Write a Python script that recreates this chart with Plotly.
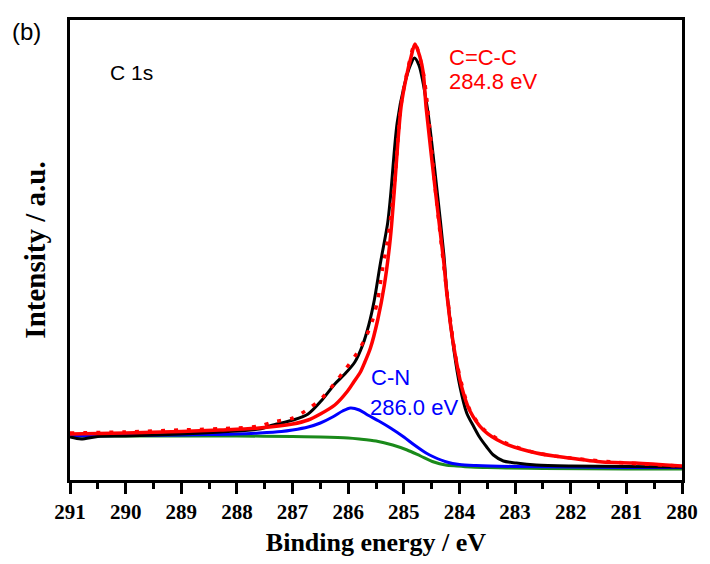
import plotly.graph_objects as go

# ---- data (binding energy in eV, intensity in arbitrary units) ----
ev_bg = [291.0, 290.0, 289.0, 288.0, 287.0, 286.5, 286.0, 285.8, 285.5, 285.2, 284.94,
         284.7, 284.46, 284.25, 284.05, 283.8, 283.5, 283.16, 282.5, 281.0, 280.0]
bg = [44, 44, 44, 44, 43.5, 43, 42, 41, 39, 35, 30, 24, 18, 15, 14, 13, 12.5, 12, 11.5, 11, 11]

ev_cn = [291.0, 290.0, 289.0, 288.5, 288.0, 287.6, 287.2, 287.0, 286.72, 286.5, 286.28,
         286.1, 285.96, 285.8, 285.65, 285.45, 285.24, 285.0, 284.81, 284.6, 284.46, 284.23,
         284.0, 283.7, 283.0, 282.0, 281.0, 280.0]
cn = [44, 44.5, 45, 45.5, 46, 47, 48.5, 50, 53, 57, 63, 69, 72, 70, 65, 59, 52, 43, 35,
      27, 23, 18, 15.5, 14.5, 13.5, 13, 12.5, 12.5]

ev_cc = [291.0, 290.0, 289.0, 288.3, 287.6, 287.0, 286.72, 286.5, 286.24, 286.01, 285.9,
         285.78, 285.7, 285.6, 285.47, 285.35, 285.24, 285.17, 285.05, 284.94, 284.87, 284.8,
         284.71, 284.65, 284.6, 284.42, 284.28, 284.23, 284.14, 284.05, 283.96, 283.82,
         283.57, 283.21, 282.62, 282.03, 281.43, 280.84, 280.0]
cc = [46, 47, 48.5, 50, 52, 56, 60, 66, 75, 89, 98, 108, 118, 132, 160, 195, 243, 290,
      373, 407, 423, 436, 423, 407, 373, 283, 217, 188, 147, 117, 93, 70, 50, 37, 27, 22,
      18, 17, 14]

ev_raw = [291.0, 290.8, 290.5, 290.0, 289.0, 288.3, 287.6, 287.35, 286.99, 286.72, 286.47,
          286.24, 286.06, 285.88, 285.74, 285.63, 285.53, 285.42, 285.29, 285.24, 285.12,
          284.99, 284.88, 284.81, 284.73, 284.58, 284.39, 284.28, 284.23, 284.1, 283.99,
          283.87, 283.74, 283.64, 283.51, 283.39, 283.21, 282.98, 282.62, 282.0, 281.0, 280.0]
raw = [43, 41, 43.5, 44, 46, 48, 51, 55, 60, 66, 80, 96, 106, 118, 135, 155, 180, 217,
       257, 283, 357, 395, 415, 422, 415, 373, 283, 225, 190, 130, 93, 67, 53, 43, 33, 25,
       19, 17, 15, 14, 13.5, 13]

ev_env = [291.0, 290.0, 289.0, 288.0, 287.6, 287.35, 286.99, 286.72, 286.47, 286.24,
          286.06, 285.84, 285.69, 285.56, 285.47, 285.38, 285.29, 285.17, 285.05, 284.94,
          284.8, 284.65, 284.42, 284.23, 284.05, 283.82, 283.57, 283.21, 282.62, 282.0,
          281.0, 280.0]
env = [47, 48, 50, 52, 54, 58, 62, 71, 82, 97, 110, 127, 142, 160, 180, 212, 240, 295,
       375, 408, 436, 407, 283, 190, 118, 71, 51, 38, 27, 22, 17, 14]

x_ticks = list(range(280, 292))

fig = go.Figure()
fig.add_trace(go.Scatter(x=ev_bg, y=bg, mode="lines",
                         line=dict(color="#1a8a1a", width=3, shape="spline", smoothing=0.8)))
fig.add_trace(go.Scatter(x=ev_cn, y=cn, mode="lines",
                         line=dict(color="#0000ff", width=3, shape="spline", smoothing=0.8)))
fig.add_trace(go.Scatter(x=ev_raw, y=raw, mode="lines",
                         line=dict(color="black", width=3, shape="spline", smoothing=0.8)))
fig.add_trace(go.Scatter(x=ev_cc, y=cc, mode="lines",
                         line=dict(color="#ff0000", width=3.5, shape="spline", smoothing=0.8)))
fig.add_trace(go.Scatter(x=ev_env, y=env, mode="lines",
                         line=dict(color="#ff0000", width=3.5, dash="4px,9px",
                                   shape="spline", smoothing=0.8)))

sans = "Arial, Liberation Sans, sans-serif"
serif = "Times New Roman, Liberation Serif, serif"

fig.update_layout(
    width=710, height=564,
    margin=dict(l=70, r=23, t=20, b=84),
    paper_bgcolor="white", plot_bgcolor="white",
    showlegend=False,
    xaxis=dict(range=[291, 280], tickvals=x_ticks, ticktext=[str(v) for v in x_ticks],
               showgrid=False, zeroline=False, showline=True, linecolor="black",
               linewidth=2.5, mirror=True, ticks="outside", ticklen=11, tickwidth=2.5,
               tickcolor="black",
               minor=dict(dtick=0.5, ticks="outside", ticklen=6, tickwidth=2.5,
                          tickcolor="black", showgrid=False),
               tickfont=dict(family=serif, size=21, color="black", weight="bold"),
               title=dict(text="<b>Binding energy / eV</b>", standoff=10,
                          font=dict(family=serif, size=26, color="black"))),
    yaxis=dict(range=[0, 460], showgrid=False, zeroline=False, showline=True,
               linecolor="black", linewidth=2.5, mirror=True, showticklabels=False,
               ticks="",
               title=dict(text="<b>Intensity / a.u.</b>", standoff=14,
                          font=dict(family=serif, size=29, color="black"))),
    annotations=[
        dict(x=-0.098, y=0.975, xref="paper", yref="paper", text="(b)", showarrow=False,
             xanchor="left", yanchor="middle",
             font=dict(family=sans, size=24, color="black")),
        dict(x=290.32, y=408, text="C 1s", showarrow=False, xanchor="left",
             font=dict(family=sans, size=21, color="black")),
        dict(x=284.23, y=423, text="C=C-C", showarrow=False, xanchor="left",
             font=dict(family=sans, size=22, color="#ff0000")),
        dict(x=284.23, y=399, text="284.8 eV", showarrow=False, xanchor="left",
             font=dict(family=sans, size=22, color="#ff0000")),
        dict(x=285.63, y=103, text="C-N", showarrow=False, xanchor="left",
             font=dict(family=sans, size=22, color="#0000ff")),
        dict(x=285.65, y=73, text="286.0 eV", showarrow=False, xanchor="left",
             font=dict(family=sans, size=22, color="#0000ff")),
    ],
)

fig.write_html("out.html")
